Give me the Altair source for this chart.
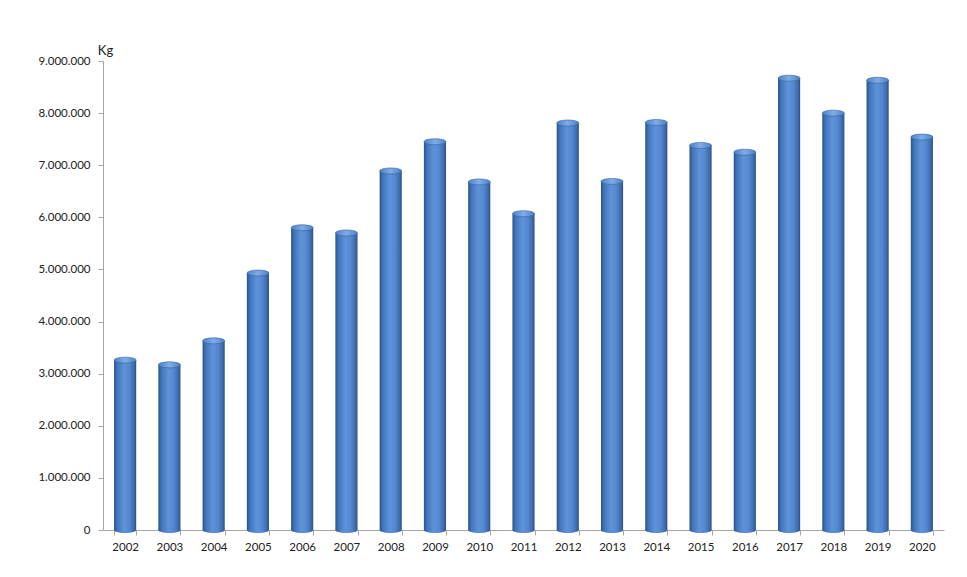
import altair as alt
import pandas as pd

years = ["2002", "2003", "2004", "2005", "2006", "2007", "2008", "2009", "2010", "2011",
         "2012", "2013", "2014", "2015", "2016", "2017", "2018", "2019", "2020"]
values = [3260000, 3170000, 3630000, 4930000, 5800000, 5700000, 6890000, 7450000, 6680000,
          6070000, 7810000, 6690000, 7820000, 7380000, 7250000, 8670000, 8000000, 8630000, 7540000]

df = pd.DataFrame({"year": years, "value": values})

bar_grad = alt.Gradient(
    gradient="linear", x1=0, x2=1, y1=0, y2=0,
    stops=[
        alt.GradientStop(color="#2a5288", offset=0),
        alt.GradientStop(color="#4274ba", offset=0.14),
        alt.GradientStop(color="#5e93da", offset=0.45),
        alt.GradientStop(color="#5487cf", offset=0.7),
        alt.GradientStop(color="#3e6baa", offset=0.9),
        alt.GradientStop(color="#2b5088", offset=1),
    ],
)
top_grad = alt.Gradient(
    gradient="linear", x1=0, x2=1, y1=0, y2=0,
    stops=[
        alt.GradientStop(color="#4f81c4", offset=0),
        alt.GradientStop(color="#80ace8", offset=0.5),
        alt.GradientStop(color="#4f81c4", offset=1),
    ],
)

ellipse = "M -1 0 A 1 0.27 0 1 0 1 0 A 1 0.27 0 1 0 -1 0 Z"

x_enc = alt.X(
    "year:N", title=None, sort=years,
    scale=alt.Scale(paddingInner=0.5, paddingOuter=0.25),
    axis=alt.Axis(labelAngle=0, tickBand="extent", tickSize=5, labelPadding=6,
                  domainColor="#a6a6a6", tickColor="#a6a6a6", labelColor="#222222",
                  labelFont="Lato", labelFontSize=11.5),
)
y_scale = alt.Scale(domain=[0, 9000000], nice=False)

bars = alt.Chart(df).mark_bar(color=bar_grad).encode(
    x=x_enc,
    y=alt.Y("value:Q", scale=y_scale, title="Kg",
            axis=alt.Axis(values=list(range(0, 9000001, 1000000)), grid=False,
                          labelExpr="replace(format(datum.value, ','), regexp(',', 'g'), '.')",
                          tickSize=5, labelPadding=8, domainColor="#a6a6a6", tickColor="#a6a6a6",
                          labelColor="#222222", labelFont="Lato", labelFontSize=11.5,
                          titleAngle=0, titleX=2, titleY=-4, titleAlign="center",
                          titleBaseline="bottom", titleFont="Lato", titleFontSize=13,
                          titleFontWeight="normal", titleColor="#222222")),
)

bottoms = alt.Chart(df).mark_point(shape=ellipse, filled=True, fill=bar_grad, size=489, opacity=1).encode(
    x=alt.X("year:N", sort=years),
    y=alt.Y("zero:Q", scale=y_scale),
).transform_calculate(zero="0")

tops = alt.Chart(df).mark_point(shape=ellipse, filled=True, fill=top_grad, size=489, opacity=1,
                                stroke="#35619e", strokeWidth=0.6).encode(
    x=alt.X("year:N", sort=years),
    y=alt.Y("value:Q", scale=y_scale),
)

chart = alt.layer(bars, bottoms, tops).properties(
    width=841, height=469,
    autosize=alt.AutoSizeParams(type="none"),
    padding={"left": 95, "top": 53, "right": 10, "bottom": 30},
).configure_view(stroke=None)

chart.save("out.html", embed_options={"renderer": "svg", "actions": False})
